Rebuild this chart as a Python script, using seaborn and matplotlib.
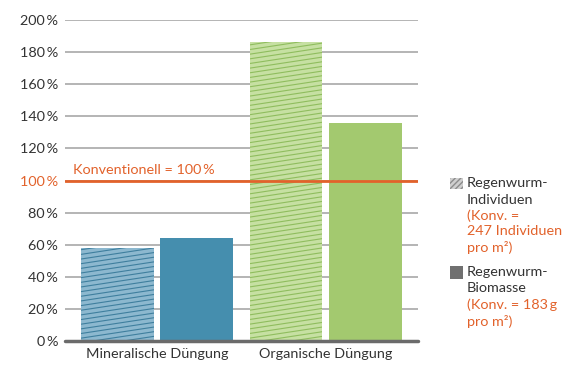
import numpy as np
import pandas as pd
import seaborn as sns
import matplotlib.pyplot as plt
from matplotlib.patches import Rectangle

# data (percent of conventional)
categories = ['Mineralische Düngung', 'Organische Düngung']
series = ['Regenwurm-Individuen', 'Regenwurm-Biomasse']
individuen = [58, 186]
biomasse = [64, 136]
yticks = list(range(0, 201, 20))
ytick_labels = [f'{v}\u2009%' for v in yticks]

df = pd.DataFrame({
    'kat': categories * 2,
    'wert': individuen + biomasse,
    'serie': [series[0]] * 2 + [series[1]] * 2,
})

sns.set_style('white')
plt.rcParams['font.family'] = ['Lato', 'DejaVu Sans']
FS = 10.4

W, H = 580, 377
fig = plt.figure(figsize=(W / 100, H / 100), dpi=100)
ax = fig.add_axes([65 / W, 1 - 341 / H, (418 - 65) / W, (341 - 20) / H])

sns.barplot(data=df, x='kat', y='wert', hue='serie', width=0.94, gap=0.08,
            ax=ax, legend=False, linewidth=0, edgecolor='none', zorder=2)

light = ['#8cb8cf', '#c6e0a2']
solid = ['#458eae', '#a3c96f']
hatch_col = ['#3f7f9e', '#8fbd5e']

# hatched series: custom shallow diagonal lines clipped to each bar
for ci, bar in enumerate(ax.containers[0]):
    bar.set_facecolor(light[ci])
    x0, w, h = bar.get_x(), bar.get_width(), bar.get_height()
    slope = 16.0
    step = 2.9
    for b in np.arange(-slope * w, h + step, step):
        ln, = ax.plot([x0, x0 + w], [b, b + slope * w], color=hatch_col[ci],
                      lw=0.8, zorder=3)
        ln.set_clip_path(bar)
for ci, bar in enumerate(ax.containers[1]):
    bar.set_facecolor(solid[ci])

ax.set_xlim(-0.547, 1.549)
ax.set_ylim(0, 200)
ax.set_yticks(yticks)
ax.set_yticklabels(ytick_labels)
ax.yaxis.grid(True, color='#a8a8a8', lw=1.2)
ax.set_axisbelow(True)
for s in ax.spines.values():
    s.set_visible(False)
ax.set_xlabel('')
ax.set_ylabel('')
ax.tick_params(axis='y', length=0, pad=5, labelsize=FS, labelcolor='#333333')
ax.tick_params(axis='x', length=0, pad=5, labelsize=FS, labelcolor='#333333')
ax.get_yticklabels()[5].set_color('#e2622b')

ax.axhline(0, color='#6b6b6b', lw=2.5, zorder=6, clip_on=False)
ax.axhline(100, color='#e2622b', lw=2, zorder=6)
ax.text(0.022, 103, 'Konventionell = 100\u2009%', transform=ax.get_yaxis_transform(),
        color='#e2622b', fontsize=FS, va='bottom', ha='left')

# legend built by hand (two-colour labels)
p1 = Rectangle((450 / W, 1 - 189 / H), 13 / W, 11 / H, transform=fig.transFigure,
               facecolor='#cfcfcf', edgecolor='#8c8c8c', lw=0, hatch='//////')
p2 = Rectangle((450 / W, 1 - 279 / H), 13 / W, 13 / H, transform=fig.transFigure,
               facecolor='#707070', edgecolor='none', lw=0)
fig.add_artist(p1)
fig.add_artist(p2)

legend_lines = [
    ('Regenwurm-', 183, '#333333'),
    ('Individuen', 200, '#333333'),
    ('(Konv. =', 216, '#e2622b'),
    ('247 Individuen', 231, '#e2622b'),
    ('pro m²)', 247, '#e2622b'),
    ('Regenwurm-', 272, '#333333'),
    ('Biomasse', 288, '#333333'),
    ('(Konv. = 183\u2009g', 305, '#e2622b'),
    ('pro m²)', 321, '#e2622b'),
]
for txt, yy, col in legend_lines:
    fig.text(467 / W, 1 - yy / H, txt, color=col, fontsize=FS, va='center', ha='left')

fig.savefig('out.png', dpi=100)
